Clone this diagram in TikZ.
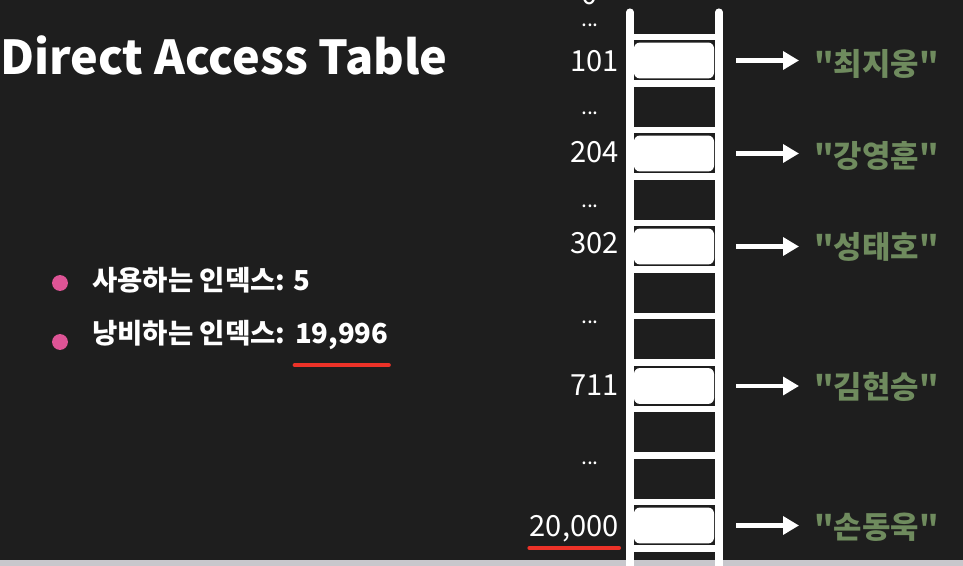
\documentclass[tikz,border=0pt]{standalone}
\usepackage{fontspec}
\setmainfont{Noto Sans CJK KR}[Ligatures=TeXOff]
\usetikzlibrary{arrows.meta}
\definecolor{bgdark}{RGB}{30,30,30}
\definecolor{namegreen}{RGB}{111,139,94}
\definecolor{dotpink}{RGB}{222,84,150}
\definecolor{markred}{RGB}{236,50,40}
\definecolor{stripgrey}{RGB}{200,199,204}
\tikzset{
    heading/.style={inner sep=0pt, text=white, font=\bfseries\fontsize{26.5}{32}\selectfont},
    item/.style={inner sep=0pt, text=white, font=\bfseries\fontsize{15.6}{18}\selectfont},
    pinkdot/.style={circle, fill=dotpink, minimum size=9pt, inner sep=0pt},
    idx/.style={anchor=base east, inner sep=0pt, text=white, font=\fontsize{16.5}{20}\selectfont},
    dots/.style={anchor=base, inner sep=0pt, text=white, font=\fontsize{12}{14}\selectfont},
    slot/.style={fill=white, rounded corners=3.4pt, minimum width=45.4pt, minimum height=20.4pt, inner sep=0pt},
    person/.style={anchor=base west, inner sep=0pt, text=namegreen, font=\bfseries\fontsize{17.5}{21}\selectfont},
    rail/.style={white, line width=4pt, line cap=round},
    rung/.style={white, line width=3.7pt},
    link/.style={white, line width=2.8pt, -{Triangle[length=9pt,width=10pt]}, shorten <=12.5pt, shorten >=8.5pt},
    uline/.style={markred, line width=2.3pt, line cap=round}
}

\begin{document}
\begin{tikzpicture}[x=0.567pt, y=-0.567pt]
    \fill[bgdark] (0,0) rectangle (963,566);
    \fill[stripgrey] (0,560) rectangle (963,566);
    \useasboundingbox (0,0) rectangle (963,566);

    \path (  0, 75) node [heading, anchor=base west] (title) {Direct Access Table};

    \path ( 60,283) node [pinkdot] (dot1) {};
    \path ( 60,342) node [pinkdot] (dot2) {};
    \path ( 92,291) node [item, anchor=base west] (used) {사용하는 인덱스: 5};
    \path ( 92,344) node [item, anchor=base west] (wastelbl) {낭비하는 인덱스:};
    \path (wastelbl.base east) node [item, anchor=base west, xshift=5pt] (waste) {19,996};
    \draw[uline] ([yshift=-12pt]waste.base west) -- ([yshift=-12pt]waste.base east);

    \draw[rail] (630,12) -- (630,575);
    \draw[rail] (719,12) -- (719,575);
    \foreach \k in {0,...,11}
        \draw[rung] (630,37+46.5*\k) -- (719,37+46.5*\k);

    \path (674, 60.5) node [slot] (s101) {};
    \path (674,153.5) node [slot] (s204) {};
    \path (674,246.5) node [slot] (s302) {};
    \path (674,386.0) node [slot] (s711) {};
    \path (674,525.5) node [slot] (s20000) {};

    \path (590,  5) node [idx, anchor=base] (i0) {0};
    \path (590, 27) node [dots] (d1) {...};
    \path (619, 72) node [idx] (i101) {101};
    \path (590,115) node [dots] (d2) {...};
    \path (619,163) node [idx] (i204) {204};
    \path (590,208) node [dots] (d3) {...};
    \path (619,254) node [idx] (i302) {302};
    \path (590,324) node [dots] (d4) {...};
    \path (619,395) node [idx] (i711) {711};
    \path (590,464) node [dots] (d5) {...};
    \path (619,536) node [idx] (i20000) {20,000};
    \draw[uline] ([yshift=-6.8pt]i20000.base west) -- ([yshift=-6.8pt]i20000.base east);

    \path (814, 76) node [person] (n101) {"최지웅"};
    \path (814,168) node [person] (n204) {"강영훈"};
    \path (814,259) node [person] (n302) {"성태호"};
    \path (814,399) node [person] (n711) {"김현승"};
    \path (814,538) node [person] (n20000) {"손동욱"};

    \draw[link] (s101.east) -- (s101.east -| n101.west);
    \draw[link] (s204.east) -- (s204.east -| n204.west);
    \draw[link] (s302.east) -- (s302.east -| n302.west);
    \draw[link] (s711.east) -- (s711.east -| n711.west);
    \draw[link] (s20000.east) -- (s20000.east -| n20000.west);
\end{tikzpicture}
\end{document}
